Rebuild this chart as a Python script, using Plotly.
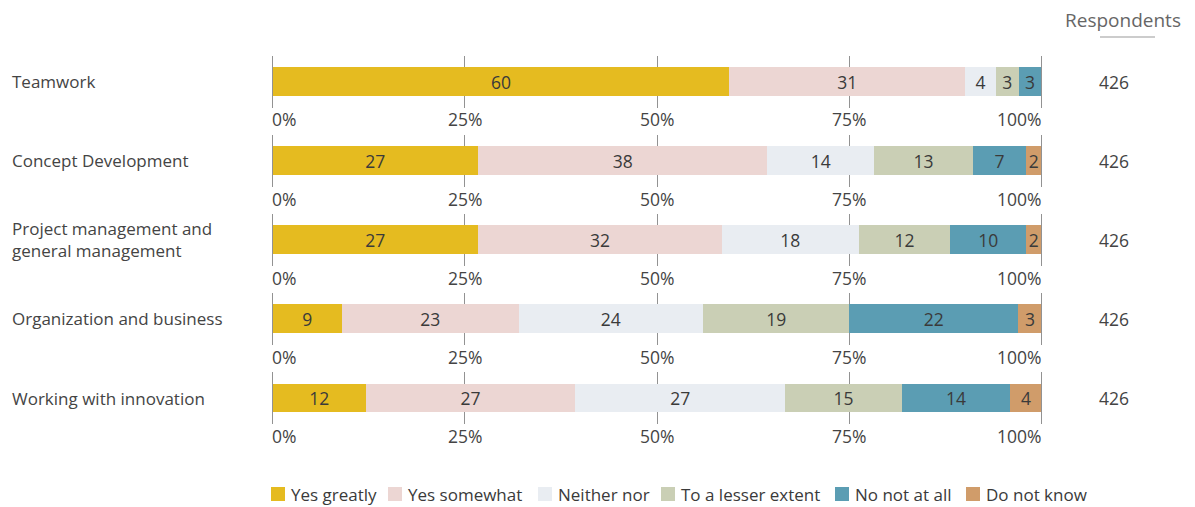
import plotly.graph_objects as go

W, H = 1195, 507

categories = ["Teamwork", "Concept Development",
              "Project management and<br>general management",
              "Organization and business", "Working with innovation"]
series_names = ["Yes greatly", "Yes somewhat", "Neither nor",
                "To a lesser extent", "No not at all", "Do not know"]
yes_greatly = [60, 27, 27, 9, 12]
yes_somewhat = [31, 38, 32, 23, 27]
neither_nor = [4, 14, 18, 24, 27]
lesser_extent = [3, 13, 12, 19, 15]
not_at_all = [3, 7, 10, 22, 14]
do_not_know = [0, 2, 2, 3, 4]
respondents = [426, 426, 426, 426, 426]
tick_vals = [0, 25, 50, 75, 100]
tick_text = ["0%", "25%", "50%", "75%", "100%"]

series = [yes_greatly, yes_somewhat, neither_nor, lesser_extent, not_at_all, do_not_know]
colors = ["#E5BB20", "#ECD6D3", "#E9EDF2", "#CACFB5", "#5B9DB3", "#D09C6A"]

# legend layout (pixel positions of the swatches)
legend_left = [271, 388, 538, 661, 835, 966]
legend_y = 494
swatch = 14

FONT = "Open Sans"
TXT = "#3a3a3a"
LBL = "#444444"

fig = go.Figure()

x0, x1 = 271 / W, 1043 / W
centers = [81.5, 160.5, 239.5, 318.5, 398]
half = 26
pad = 0.2  # small axis padding so the 0% and 100% gridlines are drawn

layout = {}
annotations = []
shapes = []
for i, cat in enumerate(categories):
    n = i + 1
    xa = "x" if n == 1 else f"x{n}"
    ya = "y" if n == 1 else f"y{n}"
    total = sum(s[i] for s in series)
    for j, s in enumerate(series):
        v = s[i]
        if v == 0:
            continue
        fig.add_trace(go.Bar(
            x=[v * 100 / total], y=[0], orientation="h",
            name=series_names[j], legendgroup=series_names[j],
            showlegend=False,
            marker=dict(color=colors[j], line=dict(width=0)),
            text=[str(v)], textposition="inside", insidetextanchor="middle",
            textangle=0, constraintext="none",
            textfont=dict(family=FONT, size=17.5, color=TXT),
            hoverinfo="skip",
            xaxis=xa, yaxis=ya,
        ))
    top = 1 - (centers[i] - half) / H
    bot = 1 - (centers[i] + half) / H
    layout["xaxis" if n == 1 else f"xaxis{n}"] = dict(
        domain=[x0, x1], range=[-pad, 100 + pad], anchor=ya,
        tickvals=tick_vals, showticklabels=False, showgrid=True,
        gridcolor="#929292", gridwidth=1, zeroline=False, showline=False,
        ticks="", fixedrange=True,
    )
    layout["yaxis" if n == 1 else f"yaxis{n}"] = dict(
        domain=[bot, top], range=[-0.5, 0.5], anchor=xa,
        showticklabels=False, showgrid=False, zeroline=False, fixedrange=True,
    )
    for tv, tt in zip(tick_vals, tick_text):
        if tv == tick_vals[0]:
            xanchor, xs = "left", -3
        elif tv == tick_vals[-1]:
            xanchor, xs = "right", 3
        else:
            xanchor, xs = "center", 0
        annotations.append(dict(
            x=tv, y=0, xref=xa, yref=f"{ya} domain", text=tt, showarrow=False,
            xanchor=xanchor, xshift=xs, yanchor="top", yshift=2,
            font=dict(family=FONT, size=17.5, color=LBL),
        ))
    annotations.append(dict(
        x=12 / W, y=0, xref="paper", yref=ya, text=cat, showarrow=False,
        xanchor="left", xshift=-2, yanchor="middle", align="left",
        font=dict(family=FONT, size=17, color=LBL),
    ))
    annotations.append(dict(
        x=1114 / W, y=0, xref="paper", yref=ya, text=str(respondents[i]),
        showarrow=False, xanchor="center", yanchor="middle",
        font=dict(family=FONT, size=17.5, color=LBL),
    ))

annotations.append(dict(
    x=1123 / W, y=1 - 20 / H, xref="paper", yref="paper", text="Respondents",
    showarrow=False, xanchor="center", yanchor="middle",
    font=dict(family=FONT, size=19, color="#666666"),
))
shapes.append(dict(type="line", xref="paper", yref="paper",
                   x0=1100 / W, x1=1155 / W, y0=1 - 37 / H, y1=1 - 37 / H,
                   line=dict(color="#999999", width=1)))

# custom legend
for name, col, lx in zip(series_names, colors, legend_left):
    shapes.append(dict(type="rect", xref="paper", yref="paper",
                       x0=lx / W, x1=(lx + swatch) / W,
                       y0=1 - (legend_y + swatch / 2) / H, y1=1 - (legend_y - swatch / 2) / H,
                       fillcolor=col, line=dict(width=0)))
    annotations.append(dict(
        x=(lx + swatch + 4) / W, y=1 - legend_y / H, xref="paper", yref="paper",
        text=name, showarrow=False, xanchor="left", yanchor="middle",
        font=dict(family=FONT, size=17, color=TXT),
    ))

fig.update_layout(
    **layout,
    width=W, height=H,
    barmode="stack", bargap=0.46,
    margin=dict(l=0, r=0, t=0, b=0),
    paper_bgcolor="white", plot_bgcolor="white",
    annotations=annotations,
    shapes=shapes,
    showlegend=False,
    hovermode=False,
    font=dict(family=FONT, color=TXT),
)

fig.write_html("out.html", config={"displayModeBar": False},
               post_script="document.body.style.margin='0px';")
